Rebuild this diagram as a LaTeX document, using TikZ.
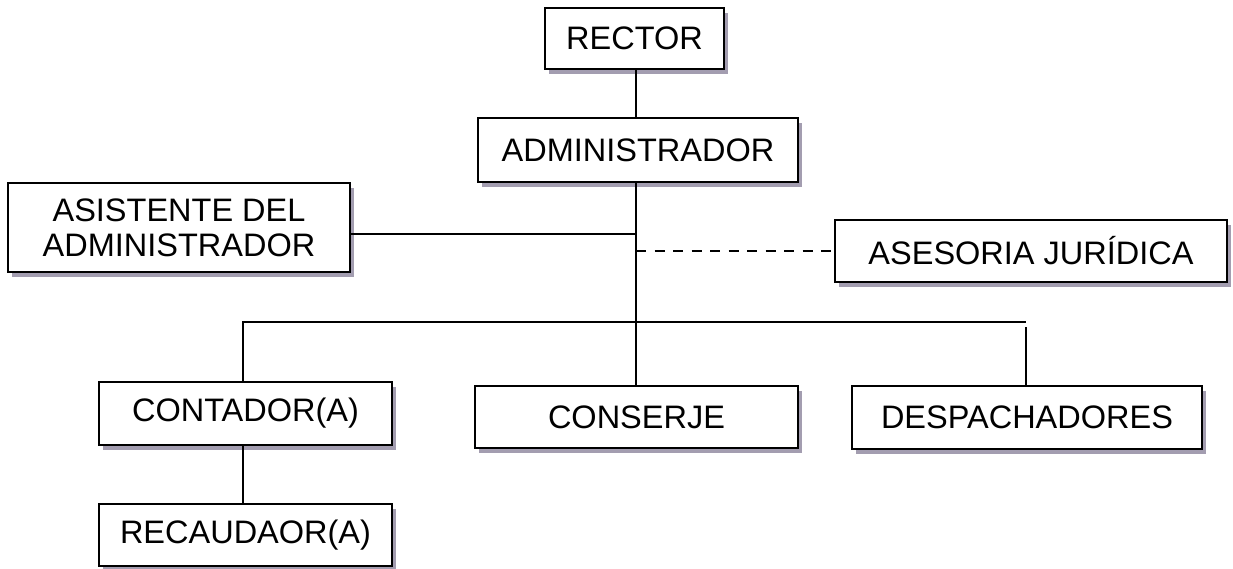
\documentclass[tikz,border=0pt]{standalone}
\usepackage{fontspec}
\setmainfont{Liberation Sans}
\usetikzlibrary{shadows}
\definecolor{shadowcol}{HTML}{A39DB0}
\tikzset{
  orgbox/.style={draw=black, line width=2.2pt, fill=white, inner sep=0pt,
    align=center, font=\fontsize{32.5}{35}\selectfont,
    drop shadow={shadow xshift=3.5pt, shadow yshift=-4.5pt, fill=shadowcol, opacity=1}},
  conn/.style={line width=2pt},
  dconn/.style={line width=2pt, dash pattern=on 10pt off 8.5pt}
}
\begin{document}
\begin{tikzpicture}[x=1pt,y=-1pt]
\useasboundingbox (0,0) rectangle (1233,568);
\coordinate (ja) at (636,234);
\coordinate (jd) at (636,251);
\coordinate (bl) at (243,322);
\coordinate (bm) at (636,322);
\coordinate (br) at (1026,322);
\coordinate (brd) at (1026,327);
% boxes
\node[orgbox, minimum width=179pt, minimum height=61pt] (rector) at (634.5,38.5) {RECTOR};
\node[orgbox, minimum width=320pt, minimum height=64pt] (admin) at (638,150) {ADMINISTRADOR};
\node[orgbox, minimum width=342pt, minimum height=89pt] (asist) at (179,227.5) {ASISTENTE DEL\\ADMINISTRADOR};
\node[orgbox, minimum width=392pt, minimum height=62pt] (aseso) at (1031,251) {ASESORIA JURÍDICA};
\node[orgbox, minimum width=293pt, minimum height=63pt] (conta) at (245.5,413.5) {CONTADOR(A)};
\node[orgbox, minimum width=323pt, minimum height=62pt] (conse) at (636.5,417) {CONSERJE};
\node[orgbox, minimum width=350pt, minimum height=63pt] (despa) at (1027,417.5) {DESPACHADORES};
\node[orgbox, minimum width=293pt, minimum height=62pt] (recau) at (245.5,535) {RECAUDAOR(A)};
% lines
\draw[conn] (rector.south -| bm) -- (admin.north -| bm);
\draw[conn] (admin.south -| bm) -- (conse.north -| bm);
\draw[conn] (asist.east |- ja) -- (ja);
\draw[dconn] (jd) -- (aseso.west |- jd);
\draw[conn] (conta.north -| bl) -- (bl) -- (br);
\draw[conn] (brd) -- (despa.north -| brd);
\draw[conn] (conta.south -| bl) -- (recau.north -| bl);
\end{tikzpicture}
\end{document}
